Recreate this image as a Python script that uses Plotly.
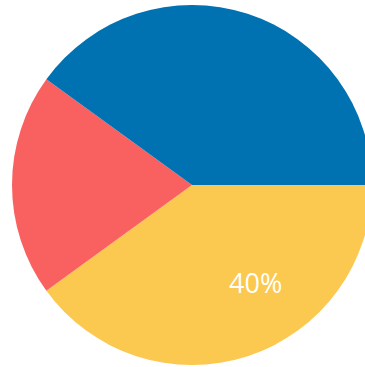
import plotly.graph_objects as go

labels = ["C", "B", "A"]
values = [40, 20, 40]
colors = ["#FBC850", "#F96161", "#0072B2"]

total = sum(values)
shown = [f"{v / total * 100:.0f}%" for v in values]

fig = go.Figure(
    go.Pie(
        labels=labels,
        values=values,
        sort=False,
        direction="clockwise",
        rotation=90,
        marker=dict(colors=colors, line=dict(width=0)),
        textinfo="none",
        hoverinfo="label+percent",
        showlegend=False,
    )
)

# percentage label for the first slice
fig.add_annotation(
    x=0.675, y=0.228, xref="paper", yref="paper",
    xanchor="center", yanchor="middle",
    text=shown[0], showarrow=False,
    font=dict(family="Open Sans", size=27, color="#FFFFFF"),
)

fig.update_layout(
    width=372, height=367,
    margin=dict(l=12, r=0, t=5, b=2),
    paper_bgcolor="#FFFFFF",
    plot_bgcolor="#FFFFFF",
)

fig.write_html(
    "out.html",
    config={"displayModeBar": False},
    post_script="document.body.style.margin='0';document.body.style.overflow='hidden';",
)
